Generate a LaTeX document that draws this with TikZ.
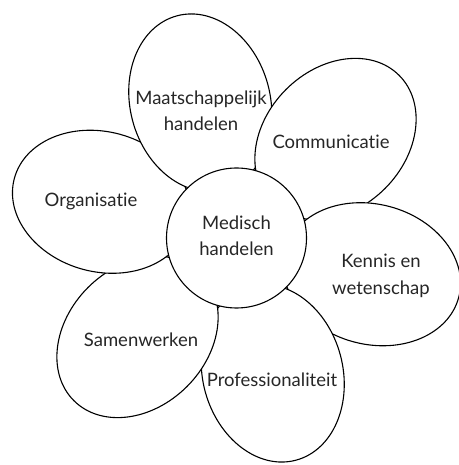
\documentclass[tikz,border=0pt]{standalone}
\usepackage{fontspec}
\setmainfont{Lato}[Ligatures=NoCommon]
\begin{document}
\begin{tikzpicture}[x=1pt,y=1pt,
  petal/.style={draw=black, fill=white, line width=1.1pt},
  lbl/.style={text=black!85, font=\fontsize{18.5}{26.5}\selectfont, align=center, inner sep=0pt}]
\useasboundingbox (0,0) rectangle (458,465);
\coordinate (C) at (236.5,227);
% petals, stacked in a pinwheel
\path[petal, shift={(C)}, rotate=165] (140,0) ellipse [x radius=90, y radius=70]; % Organisatie
\path[petal, shift={(C)}, rotate=105] (140,0) ellipse [x radius=90, y radius=70]; % Maatschappelijk
\path[petal, shift={(C)}, rotate=45]  (140,0) ellipse [x radius=90, y radius=70]; % Communicatie
\path[petal, shift={(C)}, rotate=-15] (140,0) ellipse [x radius=90, y radius=70]; % Kennis
\path[petal, shift={(C)}, rotate=-75] (140,0) ellipse [x radius=90, y radius=70]; % Professionaliteit
\path[petal, shift={(C)}, rotate=-135] (140,0) ellipse [x radius=90, y radius=70]; % Samenwerken
\begin{scope}
  \clip[shift={(C)}, rotate=-135] (140,0) ellipse [x radius=91.5, y radius=71.5];
  \path[petal, shift={(C)}, rotate=165] (140,0) ellipse [x radius=90, y radius=70];
\end{scope}
\node[petal, circle, minimum size=140pt, inner sep=0pt] (centre) at (C) {};
% labels
\node[lbl] (med) at (236.5,229) {Medisch\\handelen};
\node[lbl] (maat) at (201,354) {Maatschappelijk\\handelen};
\node[lbl] (comm) at (331,323) {Communicatie};
\node[lbl] (ken) at (381,189) {Kennis en\\wetenschap};
\node[lbl] (prof) at (272,85) {Professionaliteit};
\node[lbl] (sam) at (141,125) {Samenwerken};
\node[lbl] (org) at (91,264) {Organisatie};
\end{tikzpicture}
\end{document}
